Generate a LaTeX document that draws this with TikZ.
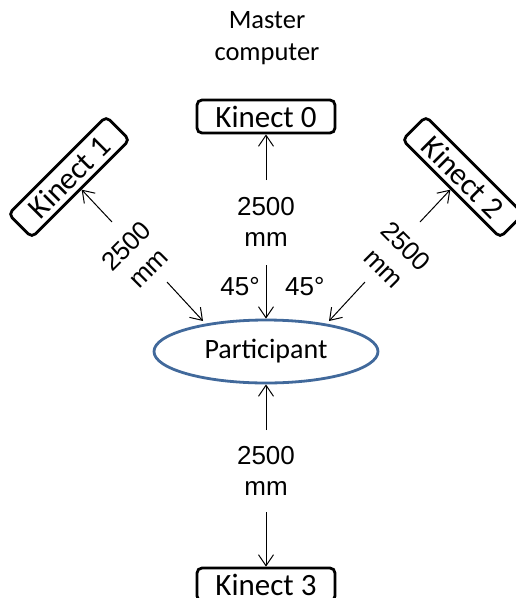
\documentclass[tikz,border=0pt]{standalone}
\usepackage{fontspec}
\setmainfont{Carlito}
\newfontfamily\arialf{Liberation Sans}
\usetikzlibrary{arrows.meta,shapes.geometric}
\definecolor{ellblue}{RGB}{65,105,155}
\tikzset{
  kbox/.style={draw=black, line width=2.8pt, rounded corners=5pt, minimum width=138pt, minimum height=33pt, inner sep=0pt, font=\fontsize{31}{33}\selectfont},
  dist/.style={align=center, inner sep=0pt, font=\arialf\fontsize{26}{31}\selectfont},
  ang/.style={inner sep=0pt, font=\arialf\fontsize{26}{31}\selectfont},
  conn/.style={line width=1pt, -{Straight Barb[length=11pt,width=15pt]}}
}
\begin{document}
\begin{tikzpicture}[x=1pt,y=-1pt]
\useasboundingbox (0,0) rectangle (516,598);
\node[align=center, inner sep=0pt, font=\fontsize{26.5}{32}\selectfont] (master) at (267,38) {Master\\computer};
\node[kbox] (k0) at (266,116.5) {Kinect 0};
\node[kbox, rotate=45] (k1) at (69,177) {Kinect 1};
\node[kbox, rotate=-45] (k2) at (463,177) {Kinect 2};
\node[kbox] (k3) at (266,584.5) {Kinect 3};
\node[ellipse, draw=ellblue, line width=2.8pt, minimum width=224pt, minimum height=63pt, inner sep=0pt, font=\fontsize{28}{32}\selectfont] (p) at (266,351.5) {Participant};
% distance labels
\node[dist] (d0) at (266,222) {2500\\mm};
\node[dist] (d3) at (266,471) {2500\\mm};
\node[dist, rotate=45] (d1) at (137,257) {2500\\mm};
\node[dist, rotate=-45] (d2) at (395,257) {2500\\mm};
\node[ang, anchor=east] (a1) at (260,287) {45°};
\node[ang, anchor=west] (a2) at (285,287) {45°};
% connector end coordinates
\coordinate (t0) at (266,180);
\coordinate (b0) at (266,265);
\coordinate (t3) at (266,430);
\coordinate (b3) at (266,512);
\coordinate (t1) at (112,222);
\coordinate (e1s) at (167,282);
\coordinate (e1) at (203,321);
\coordinate (t2) at (420,222);
\coordinate (e2s) at (365,282);
\coordinate (e2) at (329,321);
% connectors
\draw[conn] (t0) -- (k0.south);
\draw[conn] (b0) -- (p.north);
\draw[conn] (t3) -- (p.south);
\draw[conn] (b3) -- (k3.north);
\draw[conn] (t1) -- (k1.south);
\draw[conn] (e1s) -- (e1);
\draw[conn] (t2) -- (k2.south);
\draw[conn] (e2s) -- (e2);
\end{tikzpicture}
\end{document}
